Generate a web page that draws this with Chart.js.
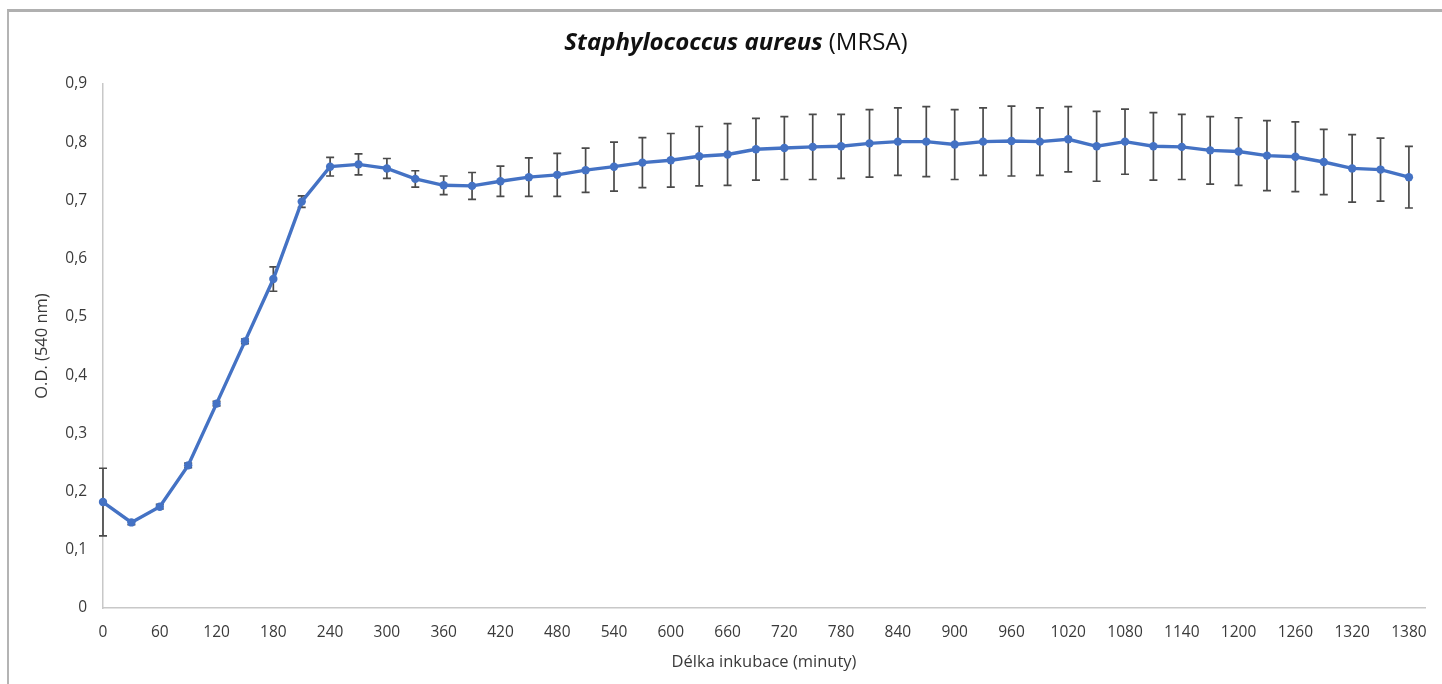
<!DOCTYPE html>
<html>
<head>
<meta charset="utf-8">
<script src="https://cdn.jsdelivr.net/npm/chart.js@4.4.0/dist/chart.umd.min.js"></script>
<style>
  html, body { margin: 0; padding: 0; background: #fff; }
  #wrap { position: relative; width: 1442px; height: 684px; }
  #frame { position: absolute; left: 7px; top: 9px; right: -10px; bottom: -10px; border-left: 2px solid #b4b4b4; border-top: 3px solid #b0b0b0; pointer-events: none; }
  canvas { position: absolute; left: 0; top: 0; }
</style>
</head>
<body>
<div id="wrap">
  <canvas id="c" width="1442" height="684"></canvas>
  <div id="frame"></div>
</div>
<script>
// ---- data ----
const times = [0, 30, 60, 90, 120, 150, 180, 210, 240, 270, 300, 330, 360, 390, 420, 450, 480, 510, 540, 570, 600, 630, 660, 690, 720, 750, 780, 810, 840, 870, 900, 930, 960, 990, 1020, 1050, 1080, 1110, 1140, 1170, 1200, 1230, 1260, 1290, 1320, 1350, 1380];
const odValues = [0.182, 0.147, 0.174, 0.245, 0.351, 0.458, 0.565, 0.698, 0.758, 0.762, 0.755, 0.737, 0.726, 0.725, 0.733, 0.740, 0.744, 0.752, 0.758, 0.765, 0.769, 0.776, 0.779, 0.788, 0.790, 0.792, 0.793, 0.798, 0.801, 0.801, 0.796, 0.801, 0.802, 0.801, 0.805, 0.793, 0.801, 0.793, 0.792, 0.786, 0.784, 0.777, 0.775, 0.766, 0.755, 0.753, 0.740];
const odErrors = [0.058, 0.004, 0.004, 0.004, 0.004, 0.004, 0.021, 0.010, 0.016, 0.018, 0.017, 0.014, 0.016, 0.023, 0.026, 0.033, 0.037, 0.038, 0.042, 0.043, 0.046, 0.051, 0.053, 0.053, 0.054, 0.056, 0.055, 0.058, 0.058, 0.060, 0.060, 0.058, 0.060, 0.058, 0.056, 0.060, 0.056, 0.058, 0.056, 0.058, 0.058, 0.060, 0.060, 0.056, 0.058, 0.054, 0.053];
const xTickLabels = ['0', '60', '120', '180', '240', '300', '360', '420', '480', '540', '600', '660', '720', '780', '840', '900', '960', '1020', '1080', '1140', '1200', '1260', '1320', '1380'];
const yTickLabels = ['0', '0,1', '0,2', '0,3', '0,4', '0,5', '0,6', '0,7', '0,8', '0,9'];
const titleItalic = 'Staphylococcus aureus';
const titleRest = ' (MRSA)';
const xTitle = 'Délka inkubace (minuty)';
const yTitle = 'O.D. (540 nm)';

const FONT = "'Open Sans', sans-serif";
const TEXT = '#3a3a3a';

const errorBars = {
  id: 'errorBars',
  beforeDatasetsDraw(chart) {
    const ctx = chart.ctx;
    const xs = chart.scales.x, ys = chart.scales.y;
    ctx.save();
    ctx.strokeStyle = '#4a4a4a';
    ctx.lineWidth = 1.7;
    odValues.forEach((v, i) => {
      const x = xs.getPixelForValue(times[i]);
      const yt = ys.getPixelForValue(v + odErrors[i]);
      const yb = ys.getPixelForValue(v - odErrors[i]);
      ctx.beginPath();
      ctx.moveTo(x, yt); ctx.lineTo(x, yb);
      ctx.moveTo(x - 4, yt); ctx.lineTo(x + 4, yt);
      ctx.moveTo(x - 4, yb); ctx.lineTo(x + 4, yb);
      ctx.stroke();
    });
    ctx.restore();
  }
};

const mixedTitle = {
  id: 'mixedTitle',
  afterDraw(chart) {
    const ctx = chart.ctx;
    ctx.save();
    ctx.fillStyle = '#111111';
    ctx.textBaseline = 'alphabetic';
    const f1 = "italic bold 24px " + FONT;
    const f2 = "24px " + FONT;
    ctx.font = f1; const w1 = ctx.measureText(titleItalic).width;
    ctx.font = f2; const w2 = ctx.measureText(titleRest).width;
    const cx = 736, by = 50;
    let x = cx - (w1 + w2) / 2;
    ctx.textAlign = 'left';
    ctx.font = f1; ctx.fillText(titleItalic, x, by);
    ctx.font = f2; ctx.fillText(titleRest, x + w1, by);
    ctx.restore();
  }
};

new Chart(document.getElementById('c'), {
  type: 'line',
  data: {
    datasets: [{
      data: times.map((t, i) => ({ x: t, y: odValues[i] })),
      borderColor: '#4472C4',
      backgroundColor: '#4472C4',
      borderWidth: 3.4,
      pointRadius: 4.2,
      pointHoverRadius: 4.2,
      pointBorderWidth: 0,
      tension: 0,
      clip: false
    }]
  },
  options: {
    responsive: false,
    animation: false,
    events: [],
    layout: { padding: { left: 0, right: 17, top: 84, bottom: 0 } },
    plugins: { legend: { display: false }, title: { display: false }, tooltip: { enabled: false } },
    scales: {
      x: {
        type: 'linear',
        min: 0,
        max: 1397,
        afterBuildTicks(scale) { scale.ticks = xTickLabels.map(l => ({ value: Number(l) })); },
        afterFit(scale) { scale.height = 76; },
        grid: { display: false, drawTicks: false },
        border: { display: true, color: '#c8c8c8', width: 1.5 },
        ticks: {
          padding: 15,
          color: TEXT,
          font: { family: FONT, size: 15.5 },
          maxRotation: 0,
          autoSkip: false,
          callback: (v) => { const i = xTickLabels.indexOf(String(v)); return i >= 0 ? xTickLabels[i] : ''; }
        },
        title: { display: true, text: xTitle, color: TEXT, font: { family: FONT, size: 16.5 }, padding: { top: 0, bottom: 12 } }
      },
      y: {
        min: 0,
        max: 0.9,
        afterBuildTicks(scale) { scale.ticks = yTickLabels.map((l, i) => ({ value: i / 10 })); },
        afterFit(scale) { scale.width = 103; },
        grid: { display: false, drawTicks: false },
        border: { display: true, color: '#c8c8c8', width: 1.5 },
        ticks: {
          padding: 16,
          color: TEXT,
          font: { family: FONT, size: 15.5 },
          callback: (v, i) => yTickLabels[i]
        },
        title: { display: true, text: yTitle, color: TEXT, font: { family: FONT, size: 16.5 }, padding: { top: 32, bottom: 0 } }
      }
    }
  },
  plugins: [errorBars, mixedTitle]
});
</script>
</body>
</html>
